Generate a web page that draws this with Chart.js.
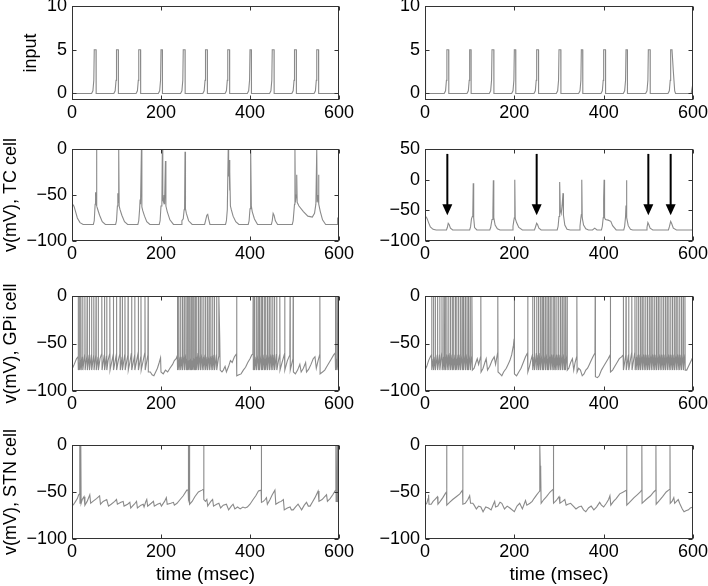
<!DOCTYPE html>
<html>
<head>
<meta charset="utf-8">
<script src="https://cdn.jsdelivr.net/npm/chart.js@4/dist/chart.umd.min.js"></script>
<style>
  body { margin: 0; background: #fff; }
  #wrap { position: relative; width: 708px; height: 586px; overflow: hidden; }
  canvas { position: absolute; }
</style>
</head>
<body>
<div id="wrap"></div>
<script>
// --- data: [time (msec), value] ---
const xTicks = [0, 200, 400, 600];
const inputTicks = [0, 5, 10];
const vTicks = [-100, -50, 0];
const tcTicksRight = [-100, -50, 0, 50];

const arrowTimes = [50, 250, 500, 550];
const arrowFrom = 42;
const arrowTo = -58;

const inputLeft = [
  [0,5],[1,5],[1.5,0],
  [44,0],[47,0.3],[49,1.5],[50,5],[54,5],[54.3,0],
  [94,0],[97,0.3],[99,1.5],[100,5],[104,5],[104.3,0],
  [144,0],[147,0.3],[149,1.5],[150,5],[154,5],[154.3,0],
  [194,0],[197,0.3],[199,1.5],[200,5],[203,5],[203.3,0],
  [244,0],[247,0.3],[249,1.5],[250,5],[254,5],[254.3,0],
  [294,0],[297,0.3],[299,1.5],[300,5],[304,5],[304.3,0],
  [344,0],[347,0.3],[349,1.5],[350,5],[354,5],[354.3,0],
  [394,0],[397,0.3],[399,1.5],[400,5],[403,5],[403.3,0],
  [444,0],[447,0.3],[449,1.5],[450,5],[454,5],[454.3,0],
  [494,0],[497,0.3],[499,1.5],[500,5],[504,5],[504.3,0],
  [544,0],[547,0.3],[549,1.5],[550,5],[554,5],[554.3,0],
  [600,0]
];
const inputRight = [
  [0,5],[1,5],[1.5,0],
  [43,0],[46,0.3],[48,1.5],[49,5],[53,5],[53.3,0],
  [94,0],[97,0.3],[99,1.5],[100,5],[103,5],[103.3,0],
  [144,0],[147,0.3],[149,1.5],[150,5],[154,5],[154.3,0],
  [194,0],[197,0.3],[199,1.5],[200,5],[203,5],[203.3,0],
  [244,0],[247,0.3],[249,1.5],[250,5],[254,5],[254.3,0],
  [294,0],[297,0.3],[299,1.5],[300,5],[304,5],[304.3,0],
  [344,0],[347,0.3],[349,1.5],[350,5],[353,5],[353.3,0],
  [394,0],[397,0.3],[399,1.5],[400,5],[404,5],[404.3,0],
  [444,0],[447,0.3],[449,1.5],[450,5],[453,5],[453.3,0],
  [494,0],[497,0.3],[499,1.5],[500,5],[504,5],[504.3,0],
  [544,0],[547,0.3],[549,1.5],[550,5],[553,5],[556,2.5],[559,0.3],[561,0],
  [596,0],[600,1.2]
];

const tcLeft = [
  [0,-62],[3,-61],[5,-63],[8,-68],[12,-75],[18,-80],[25,-82],
  [48,-82],[50,-78],[52,-60],[53,-47],[54,-58],[55,-1],[56,-62],[58,-66],[62,-72],[68,-79],[75,-82],
  [98,-82],[100,-78],[102,-62],[103,-48],[104,-58],[105,-1],[106,-62],[108,-66],[112,-72],[118,-79],[125,-82],
  [148,-82],[150,-78],[152,-65],[153,-55],[154,-60],[156,-1],[157,-63],[159,-67],[163,-73],[168,-79],[175,-82],
  [196,-82],[198,-78],[200,-62],[202,-60],[203,-1],[204,-55],[206,-58],[207,-50],[208,-60],[210,-13],[211,-62],[214,-68],[220,-77],[228,-82],
  [245,-82],[247,-78],[250,-76],[252,-66],[253,-65],[254,-3],[255,-65],[257,-70],[262,-78],[270,-82],
  [298,-82],[300,-78],[303,-72],[305,-71],[307,-76],[310,-82],
  [345,-82],[347,-78],[349,-66],[351,-1],[352,-30],[353,-12],[354,-45],[355,-25],[356,-62],[358,-66],[362,-73],[368,-79],[375,-82],
  [396,-82],[398,-78],[400,-65],[401,-60],[402,-1],[403,-62],[405,-68],[410,-76],[417,-82],
  [448,-82],[450,-78],[452,-70],[454,-72],[457,-78],[462,-82],
  [495,-82],[497,-78],[500,-60],[501,-1],[502,-58],[504,-50],[505,-28],[506,-58],[510,-62],[520,-68],[530,-73],[540,-74],
  [545,-70],[548,-60],[550,-1],[551,-58],[553,-50],[554,-28],[555,-60],[558,-68],[563,-77],[570,-82],
  [596,-82],[597,-75],[600,-75]
];
const tcRight = [
  [0,-60],[3,-61],[5,-64],[8,-70],[12,-77],[18,-81],[25,-82],
  [48,-82],[50,-78],[52,-71],[54,-73],[57,-79],[62,-82],
  [100,-82],[102,-77],[104,-64],[106,-60],[107,-58],[108,-6],[109,-62],[111,-78],[116,-82],
  [145,-82],[147,-78],[150,-65],[152,-54],[153,-1],[154,-62],[157,-74],[162,-80],[168,-82],
  [195,-82],[197,-76],[199,-66],[200,-62],[201,0],[202,-63],[205,-70],[210,-78],[218,-82],
  [245,-82],[247,-78],[250,-71],[252,-73],[255,-79],[260,-82],
  [296,-82],[298,-76],[300,-60],[301,-52],[302,-4],[303,-50],[305,-55],[307,-42],[309,-22],[310,-58],[313,-74],[318,-81],[325,-82],
  [345,-82],[347,-76],[349,-62],[350,-57],[351,0],[352,-62],[355,-74],[360,-80],[366,-82],
  [375,-82],[380,-79],[385,-82],
  [395,-82],[397,-76],[399,-62],[400,-31],[401,0],[402,-62],[404,-65],[410,-66],[416,-68],[420,-75],[428,-82],
  [445,-82],[447,-76],[449,-60],[450,-42],[451,-1],[452,-62],[455,-75],[460,-81],[465,-82],
  [495,-82],[497,-78],[499,-70],[501,-73],[504,-79],[510,-82],
  [545,-82],[547,-77],[550,-68],[552,-71],[556,-79],[563,-82],
  [598,-82],[600,-80]
];

const gpiLeft = [
  [0,-77],[5,-72],[10,-66],[13.5,-64],
  [14,0],[14.5,-78],[16.5,-70],[17,0],[17.5,-78],[19.5,-68],[20,0],[20.5,-78],[23.5,-64],[24,0],[24.5,-78],
  [28.5,-62],[29,0],[29.5,-78],[33.5,-63],[34,0],[34.5,-78],[38.5,-62],[39,0],[39.5,-78],[43.5,-62],[44,0],[44.5,-78],
  [48.5,-63],[49,0],[49.5,-78],[53.5,-62],[54,0],[54.5,-78],[58.5,-64],[59,0],[59.5,-78],[63,-66],[66.5,-61],[67,0],[67.5,-78],
  [72.5,-62],[73,0],[73.5,-78],[77.5,-63],[78,0],[78.5,-78],[81,-68],[84.5,-61],[85,0],[85.5,-78],[89,-70],[92.5,-62],[93,0],[93.5,-78],
  [99.5,-62],[100,0],[100.5,-78],[104,-68],[107.5,-61],[108,0],[108.5,-78],[112.5,-64],[113,0],[113.5,-78],[118.5,-62],[119,0],[119.5,-78],
  [125.5,-62],[126,0],[126.5,-78],[130,-70],[133.5,-60],[134,0],[134.5,-78],[140.5,-63],[141,0],[141.5,-78],[148.5,-60],[149,0],[149.5,-78],
  [154.5,-64],[155,0],[155.5,-78],[160,-68],[163.5,-60],[164,0],[164.5,-78],[170.5,-62],[171,0],[171.5,-80],
  [176,-80],[180,-83],[184,-84],[188,-80],[192,-76],[196,-70],[199,-65],[200,-80],[205,-82],[210,-78],[215,-80],[220,-76],[226,-72],[230,-68],[234,-66],[236.5,-63],
  [237,0],[237.5,-78],[239.5,-68],[240,0],[240.5,-78],[243.5,-64],[244,0],[244.5,-78],[247.5,-64],[248,0],[248.5,-78],
  [251.5,-62],[252,0],[252.5,-78],[255.5,-62],[256,0],[256.5,-78],[258.5,-66],[259,0],[259.5,-78],[261.5,-68],[262,0],[262.5,-78],
  [264.5,-68],[265,0],[265.5,-78],[267.5,-66],[268,0],[268.5,-78],[270.5,-68],[271,0],[271.5,-78],[273.5,-66],[274,0],[274.5,-78],
  [276.5,-66],[277,0],[277.5,-78],[279.5,-64],[280,0],[280.5,-78],[283.5,-60],[284,0],[284.5,-78],[287.5,-62],[288,0],[288.5,-78],
  [291.5,-62],[292,0],[292.5,-78],[295.5,-64],[296,0],[296.5,-78],[299.5,-62],[300,0],[300.5,-78],[303.5,-64],[304,0],[304.5,-78],
  [307.5,-63],[308,0],[308.5,-78],[311.5,-64],[312,0],[312.5,-78],[315.5,-63],[316,0],[316.5,-78],[319.5,-62],[320,0],[320.5,-78],
  [324.5,-62],[325,0],[325.5,-78],[329.5,-64],[330,0],[332,-45],[333,-78],
  [337,-80],[340,-78],[344,-74],[347,-80],[352,-74],[356,-68],[360,-70],[365,-64],[369.5,-61],[370,0],[370.5,-84],
  [375,-83],[380,-82],[385,-78],[390,-75],[395,-70],[400,-66],[404,-62],[406.5,-61],
  [407,0],[407.5,-78],[409.5,-66],[410,0],[410.5,-78],[413.5,-64],[414,0],[414.5,-78],[417.5,-62],[418,0],[418.5,-78],
  [420.5,-66],[421,0],[421.5,-78],[424.5,-62],[425,0],[425.5,-78],[427.5,-66],[428,0],[428.5,-78],[431.5,-62],[432,0],[432.5,-78],
  [434.5,-66],[435,0],[435.5,-78],[438.5,-62],[439,0],[439.5,-78],[442.5,-62],[443,0],[443.5,-78],[446.5,-62],[447,0],[447.5,-78],
  [450.5,-62],[451,0],[451.5,-78],[454.5,-62],[455,0],[455.5,-78],[459.5,-61],[460,0],[460.5,-78],[464,-68],[466.5,-62],[467,0],[467.5,-78],
  [472,-70],[477.5,-61],[478,0],[478.5,-78],[484,-68],[489.5,-62],[490,0],[490.5,-78],[496.5,-66],[497,0],[497.5,-80],
  [502,-82],[507,-78],[512,-72],[515,-80],[520,-76],[525,-70],[527,-80],[532,-77],[537,-72],[542,-66],[546,-64],[549,-76],[553,-68],
  [556.5,-62],[557,0],[557.5,-82],[563,-80],[568,-78],[573,-74],[578,-70],[583,-66],[588,-62],[591.5,-60],
  [592,0],[592.5,-78],[594.5,-66],[595,0],[595.5,-78],[597.5,-66],[598,0],[598.5,-76],[600,-75]
];
const gpiRight = [
  [0,-78],[4,-74],[8,-68],[12,-64],[14.5,-62],
  [15,0],[15.5,-78],[18.5,-66],[19,0],[19.5,-78],[22.5,-64],[23,0],[23.5,-78],[27.5,-62],[28,0],[28.5,-78],
  [32.5,-62],[33,0],[33.5,-78],[37.5,-60],[38,0],[38.5,-78],[41.5,-64],[42,0],[42.5,-78],[44.5,-66],[45,0],[45.5,-78],
  [48.5,-62],[49,0],[49.5,-78],[52.5,-62],[53,0],[53.5,-78],[56.5,-60],[57,0],[57.5,-78],[60.5,-62],[61,0],[61.5,-78],
  [63.5,-66],[64,0],[64.5,-78],[67.5,-62],[68,0],[68.5,-78],[70.5,-66],[71,0],[71.5,-78],[74.5,-62],[75,0],[75.5,-78],
  [78.5,-62],[79,0],[79.5,-78],[82.5,-62],[83,0],[83.5,-78],[85.5,-66],[86,0],[86.5,-78],[89.5,-62],[90,0],[90.5,-78],
  [93.5,-62],[94,0],[94.5,-78],[96.5,-66],[97,0],[97.5,-78],[100.5,-62],[101,0],[101.5,-78],[104.5,-64],[105,0],[106,-78],
  [110,-76],[114,-70],[117,-66],[120,-72],[124.5,-64],[125,0],[125.5,-80],[130,-76],[134,-70],[137,-66],[140,-78],[145,-74],
  [150,-68],[155,-64],[158,-72],[162.5,-60],[163,0],[163.5,-80],[168,-82],[172,-84],[176,-80],[182,-76],[186,-72],[190,-68],
  [194,-62],[198,-52],[199.5,-45],[200,0],[200.5,-82],[205,-84],[210,-80],[215,-76],[220,-70],[225,-64],[229.5,-60],[230,0],[230.5,-80],
  [234,-74],[237,-68],[240.5,-62],
  [241,0],[241.5,-78],[244.5,-64],[245,0],[245.5,-78],[249.5,-60],[250,0],[250.5,-78],[253.5,-62],[254,0],[254.5,-78],
  [257.5,-60],[258,0],[258.5,-78],[261.5,-62],[262,0],[262.5,-78],[264.5,-66],[265,0],[265.5,-78],[268.5,-62],[269,0],[269.5,-78],
  [272.5,-62],[273,0],[273.5,-78],[275.5,-66],[276,0],[276.5,-78],[279.5,-62],[280,0],[280.5,-78],[283.5,-62],[284,0],[284.5,-78],
  [287.5,-62],[288,0],[288.5,-78],[290.5,-66],[291,0],[291.5,-78],[294.5,-62],[295,0],[295.5,-78],[298.5,-62],[299,0],[299.5,-78],
  [302.5,-62],[303,0],[303.5,-78],[306.5,-62],[307,0],[307.5,-78],[310.5,-62],[311,0],[311.5,-78],[313.5,-66],[314,0],[314.5,-78],
  [317.5,-62],[318,0],[318.5,-78],
  [322,-76],[326,-70],[330,-66],[333,-78],[336,-70],[339.5,-64],[340,0],[340.5,-80],[344,-76],[348,-78],[352,-84],[356,-82],
  [360,-78],[364,-76],[368,-72],[372,-68],[376,-64],[380.5,-60],[381,0],[381.5,-85],[386,-86],[390,-84],[395,-78],[400,-74],
  [405,-70],[410,-66],[414.5,-62],[415,0],[415.5,-80],[420,-78],[425,-74],[430,-70],[435,-66],[440,-64],[443.5,-62],
  [444,0],[444.5,-78],[449.5,-62],[450,0],[450.5,-78],[455.5,-62],[456,0],[456.5,-78],[462.5,-60],[463,0],[463.5,-78],
  [469.5,-60],[470,0],[470.5,-78],[473.5,-64],[474,0],[474.5,-78],[477.5,-62],[478,0],[478.5,-78],[481.5,-62],[482,0],[482.5,-78],
  [485.5,-62],[486,0],[486.5,-78],[489.5,-62],[490,0],[490.5,-78],[493.5,-62],[494,0],[494.5,-78],[497.5,-62],[498,0],[498.5,-78],
  [501.5,-62],[502,0],[502.5,-78],[505.5,-62],[506,0],[506.5,-78],[509.5,-62],[510,0],[510.5,-78],[513.5,-62],[514,0],[514.5,-78],
  [517.5,-62],[518,0],[518.5,-78],[521.5,-62],[522,0],[522.5,-78],[525.5,-62],[526,0],[526.5,-78],[529.5,-62],[530,0],[530.5,-78],
  [533.5,-62],[534,0],[534.5,-78],[537.5,-62],[538,0],[538.5,-78],[541.5,-62],[542,0],[542.5,-78],[545.5,-62],[546,0],[546.5,-78],
  [549.5,-62],[550,0],[550.5,-78],[553.5,-62],[554,0],[554.5,-78],[557.5,-62],[558,0],[558.5,-78],[561.5,-62],[562,0],[562.5,-78],
  [565.5,-62],[566,0],[566.5,-78],[569.5,-62],[570,0],[570.5,-78],[573.5,-62],[574,0],[574.5,-78],[577.5,-62],[578,0],[578.5,-78],
  [581.5,-62],[582,0],[582.5,-78],
  [586,-78],[590,-74],[594,-70],[598,-66],[600,-64]
];

const stnLeft = [
  [0,-65],[4,-63],[8,-60],[12,-57],[15,-53],[17,-52],[17.5,0],[18,-62],[19.5,-55],[20,0],[20.5,-62],[23,-58],[27,-55],[29,-64],
  [34,-60],[40,-53],[42,-62],[47,-60],[55,-57],[62,-54],[64,-63],[70,-60],[78,-58],[82,-65],[88,-63],[96,-60],[100,-58],[102,-63],
  [110,-61],[115,-60],[117,-65],[125,-63],[130,-61],[132,-67],[140,-63],[145,-60],[147,-67],[155,-64],[160,-63],[162,-66],[166,-60],
  [168,-58],[170,-65],[178,-62],[183,-60],[185,-65],[192,-63],[198,-62],[201,-65],[208,-60],[212,-56],[214,-63],[222,-62],[228,-61],
  [230,-64],[236,-62],[243,-58],[250,-54],[258,-48],[261,-48],[261.5,0],[262,-58],[263.5,-55],[264,0],[264.5,-63],[270,-60],[276,-55],
  [284,-50],[292,-48],[295.5,-47],[296,0],[296.5,-58],[300,-60],[303,-58],[305,-65],[312,-60],[316,-58],[318,-65],[325,-63],[330,-62],
  [334,-67],[340,-64],[347,-63],[352,-69],[358,-65],[362,-63],[366,-68],[372,-66],[378,-68],[384,-66],[389,-67],[394,-66],[400,-63],
  [407,-58],[413,-54],[419,-49],[425,-48],[425.5,0],[426,-61],[430,-60],[434,-58],[437,-56],[439,-63],[445,-58],[450,-53],[456,-48],
  [458,-63],[465,-61],[470,-60],[475,-58],[477,-69],[484,-67],[490,-66],[493,-69],[497,-69],[502,-66],[508,-63],[512,-66],[516,-69],
  [522,-64],[527,-61],[531,-65],[535,-65],[541,-60],[546,-56],[551,-51],[553,-49],[555,-60],[562,-58],[568,-55],[572,-53],[574,-60],
  [580,-57],[586,-53],[591,-49],[592.5,-48],[593,0],[593.5,-60],[595.5,-55],[596,0],[596.5,-60],[600,-61]
];
const stnRight = [
  [0,-64],[4,-62],[7,-57],[8,-53],[9,-63],[14,-63],[18,-60],[22,-58],[26,-56],[28,-55],[29,-63],[34,-60],[40,-56],[45,-52],
  [48,-50],[48.5,0],[49,-64],[55,-61],[62,-58],[70,-55],[78,-52],[84,-48],[84.5,0],[85,-63],[90,-62],[96,-58],[100,-54],[102,-62],
  [107,-62],[110,-64],[115,-68],[120,-65],[125,-66],[130,-71],[136,-66],[142,-67],[148,-69],[153,-63],[156,-60],[158,-66],[163,-65],
  [168,-61],[172,-62],[178,-68],[184,-65],[190,-67],[200,-71],[206,-65],[212,-62],[218,-68],[225,-59],[228,-64],[235,-62],[240,-60],
  [244,-57],[250,-53],[255,-50],[256.5,-49],[257,0],[258,-22],[259,-28],[260,-62],[266,-58],[272,-55],[280,-50],[287,-47],[287.5,0],
  [288,-62],[294,-59],[300,-55],[302,-62],[308,-60],[313,-58],[316,-64],[320,-63],[326,-62],[332,-65],[338,-68],[344,-66],[350,-65],
  [355,-69],[360,-71],[366,-67],[372,-65],[378,-69],[384,-66],[391,-61],[395,-64],[400,-66],[406,-62],[411,-58],[414,-54],[416,-64],
  [422,-60],[428,-57],[436,-52],[444,-50],[451,-48],[451.5,0],[452,-64],[460,-60],[468,-56],[475,-53],[482,-50],[485,-48],[485.5,0],
  [486,-62],[495,-58],[505,-54],[512,-50],[516.5,-48],[517,0],[517.5,-63],[525,-59],[532,-55],[540,-50],[548,-47],[548.5,0],[549,-62],
  [553,-60],[557,-56],[559,-62],[563,-60],[567,-58],[570,-62],[576,-68],[580,-71],[584,-70],[590,-69],[594,-67],[600,-66]
];

// --- drawing ---
Chart.defaults.font.family = '"Liberation Sans", Arial, Helvetica, sans-serif';
Chart.defaults.font.size = 18;
Chart.defaults.color = '#000';

const frame = {
  id: 'frame',
  afterDatasetsDraw(chart, args, opts) {
    const { ctx, chartArea: a, scales: { x, y } } = chart;
    const l = Math.round(a.left) + 0.5, r = Math.round(a.right) - 0.5;
    const t = Math.round(a.top) + 0.5, b = Math.round(a.bottom) - 0.5;
    ctx.save();
    ctx.strokeStyle = '#333';
    ctx.lineWidth = 1;
    ctx.strokeRect(l, t, r - l, b - t);
    ctx.beginPath();
    x.ticks.forEach(tk => {
      const px = Math.round(x.getPixelForValue(tk.value)) + 0.5;
      ctx.moveTo(px, b); ctx.lineTo(px, b - 4);
      ctx.moveTo(px, t); ctx.lineTo(px, t + 4);
    });
    y.ticks.forEach(tk => {
      const py = Math.round(y.getPixelForValue(tk.value)) + 0.5;
      ctx.moveTo(l, py); ctx.lineTo(l + 4, py);
      ctx.moveTo(r, py); ctx.lineTo(r - 4, py);
    });
    ctx.stroke();

    // arrows marking missed responses
    (opts.arrows || []).forEach(tm => {
      const px = x.getPixelForValue(tm);
      const y1 = y.getPixelForValue(opts.from);
      const y2 = y.getPixelForValue(opts.to);
      ctx.strokeStyle = '#000';
      ctx.fillStyle = '#000';
      ctx.lineWidth = 2;
      ctx.beginPath();
      ctx.moveTo(px, y1); ctx.lineTo(px, y2 - 9);
      ctx.stroke();
      ctx.beginPath();
      ctx.moveTo(px - 5, y2 - 11);
      ctx.lineTo(px + 5, y2 - 11);
      ctx.lineTo(px, y2);
      ctx.closePath();
      ctx.fill();
    });
    ctx.restore();
  }
};

function fmt(v) { return v < 0 ? '\u2212' + Math.abs(v) : String(v); }

function panel(p) {
  const c = document.createElement('canvas');
  c.width = p.w; c.height = p.h;
  c.style.left = p.left + 'px';
  c.style.top = p.top + 'px';
  c.style.width = p.w + 'px';
  c.style.height = p.h + 'px';
  document.getElementById('wrap').appendChild(c);

  new Chart(c, {
    type: 'line',
    data: {
      datasets: [{
        data: p.data,
        borderColor: '#8a8a8a',
        borderWidth: 1.1,
        pointRadius: 0,
        tension: 0,
        fill: false
      }]
    },
    options: {
      responsive: false,
      animation: false,
      events: [],
      layout: { autoPadding: false, padding: { top: p.padTop, left: p.padLeft, right: 15, bottom: 0 } },
      plugins: {
        legend: { display: false },
        tooltip: { enabled: false },
        frame: { arrows: p.arrows, from: arrowFrom, to: arrowTo }
      },
      scales: {
        x: {
          type: 'linear', min: 0, max: 600,
          afterBuildTicks: s => { s.ticks = xTicks.map(v => ({ value: v })); },
          afterFit: s => { s.height = p.xH; s.paddingLeft = 0; s.paddingRight = 0; },
          grid: { display: false, drawTicks: false }, border: { display: false },
          ticks: { padding: 2, maxRotation: 0, autoSkip: false, callback: fmt },
          title: { display: !!p.xTitle, text: p.xTitle, font: { size: 19 }, padding: { top: 0, bottom: 0 } }
        },
        y: {
          type: 'linear', min: p.yMin, max: p.yMax,
          afterBuildTicks: s => { s.ticks = p.yTicks.map(v => ({ value: v })); },
          afterFit: s => { s.width = p.yW; s.paddingTop = 0; s.paddingBottom = 0; },
          grid: { display: false, drawTicks: false }, border: { display: false },
          ticks: { padding: 5, autoSkip: false, callback: fmt },
          title: { display: !!p.yTitle, text: p.yTitle, padding: 0 }
        }
      }
    },
    plugins: [frame]
  });
}

const rows = [
  { top: 0,   h: 130, padTop: 6,  xH: 30 },
  { top: 130, h: 150, padTop: 19, xH: 39 },
  { top: 280, h: 150, padTop: 16, xH: 39 },
  { top: 430, h: 156, padTop: 15, xH: 47 }
];

panel({ ...rows[0], left: 0, w: 354, padLeft: 20, yW: 52, yMin: -0.75, yMax: 10, yTicks: inputTicks, yTitle: 'input', data: inputLeft });
panel({ ...rows[0], left: 354, w: 354, padLeft: 0, yW: 71, yMin: -0.75, yMax: 10, yTicks: inputTicks, data: inputRight });
panel({ ...rows[1], left: 0, w: 354, padLeft: 0, yW: 72, yMin: -100, yMax: 0, yTicks: vTicks, yTitle: 'v(mV), TC cell', data: tcLeft });
panel({ ...rows[1], left: 354, w: 354, padLeft: 0, yW: 71, yMin: -100, yMax: 50, yTicks: tcTicksRight, data: tcRight, arrows: arrowTimes });
panel({ ...rows[2], left: 0, w: 354, padLeft: 0, yW: 72, yMin: -100, yMax: 0, yTicks: vTicks, yTitle: 'v(mV), GPi cell', data: gpiLeft });
panel({ ...rows[2], left: 354, w: 354, padLeft: 0, yW: 71, yMin: -100, yMax: 0, yTicks: vTicks, data: gpiRight });
panel({ ...rows[3], left: 0, w: 354, padLeft: 0, yW: 72, yMin: -100, yMax: 0, yTicks: vTicks, yTitle: 'v(mV), STN cell', xTitle: 'time (msec)', data: stnLeft });
panel({ ...rows[3], left: 354, w: 354, padLeft: 0, yW: 71, yMin: -100, yMax: 0, yTicks: vTicks, xTitle: 'time (msec)', data: stnRight });
</script>
</body>
</html>
